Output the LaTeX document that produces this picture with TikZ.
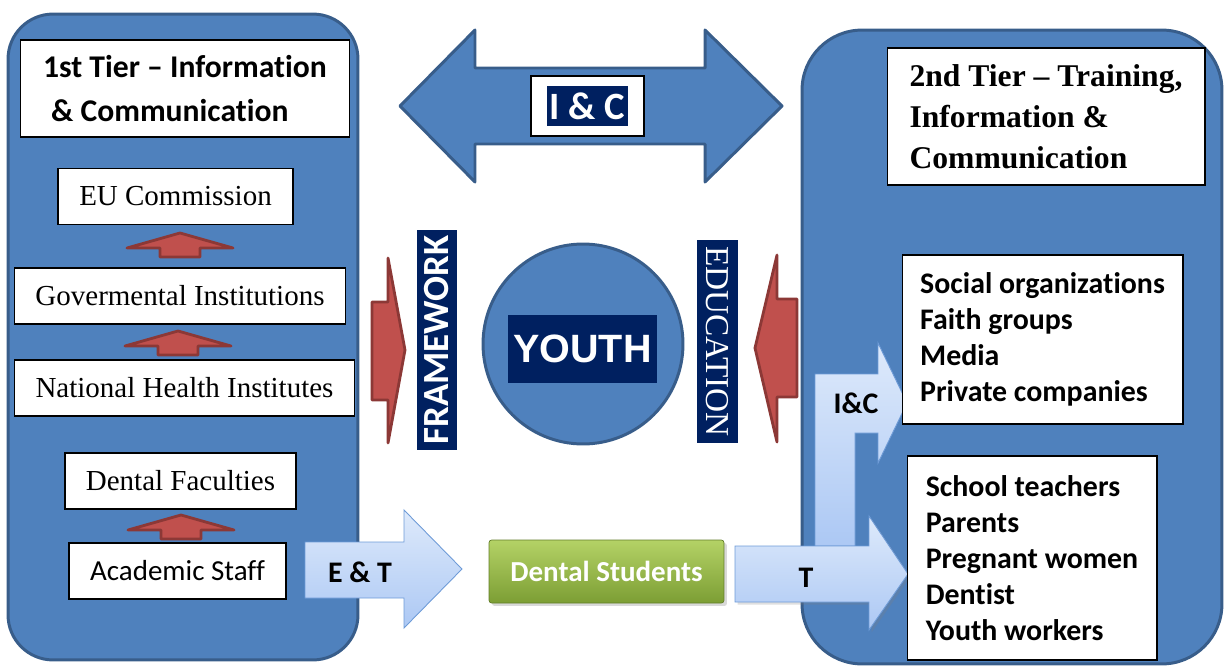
\documentclass[tikz,border=0pt]{standalone}
\usepackage{fontspec}
\setmainfont{Liberation Serif}
\setsansfont{Carlito}[Ligatures=NoCommon]
\newfontfamily\arialfont{Liberation Sans}
\usetikzlibrary{shadows}

\definecolor{panelblue}{RGB}{79,129,189}
\definecolor{panelline}{RGB}{56,93,138}
\definecolor{navy}{RGB}{0,32,96}
\definecolor{redfill}{RGB}{192,80,77}
\definecolor{redline}{RGB}{140,56,54}
\definecolor{lighttop}{RGB}{222,234,251}
\definecolor{lightbottom}{RGB}{172,200,244}
\definecolor{lightline}{RGB}{110,155,215}
\definecolor{greentop}{RGB}{180,210,102}
\definecolor{greenbottom}{RGB}{124,158,52}

\newcommand{\fsz}[2]{\fontsize{#1}{#2}\selectfont}

\begin{document}
\begin{tikzpicture}[
    x=0.02cm, y=-0.02cm,
    panel/.style={draw=panelline, fill=panelblue, line width=1.7pt},
    box/.style={draw=black, fill=white, line width=0.6pt, inner sep=0pt},
    serifbox/.style={box, minimum height=1.12cm, font=\rmfamily\fsz{16.5}{19}},
    listbox/.style={box, align=left, font=\sffamily\bfseries\fsz{17}{20.4}},
    navybox/.style={fill=navy, text=white, inner sep=0pt},
    tag/.style={font=\sffamily\bfseries\fsz{17}{20}},
    redarrow/.style={fill=redfill, draw=redline, line width=1.6pt, line join=round},
    bluearrow/.style={top color=lighttop, bottom color=lightbottom, draw=lightline, line width=0.5pt},
    bigarrow/.style={fill=panelblue, draw=panelline, line width=1.7pt, line join=round}
]
    \useasboundingbox (0,0) rectangle (1224,666);

    % the two tiers
    \node [panel, rounded corners=0.9cm, minimum width=7cm, minimum height=12.92cm] (tier1) at (183,337) {};
    \node [panel, rounded corners=1.2cm, minimum width=8.4cm, minimum height=12.68cm] (tier2) at (1012,347) {};

    % first tier
    \node [box, minimum width=6.6cm, minimum height=1.94cm, align=left,
           font=\sffamily\bfseries\fsz{18}{25.5}] (title1) at (185,88.5)
          {1st Tier – Information\\\hspace*{0.16cm}\& Communication};
    \node [serifbox, minimum width=4.7cm] (eu) at (175.5,196.5) {EU Commission};
    \node [serifbox, minimum width=6.64cm] (gov) at (180,296) {Govermental Institutions};
    \node [serifbox, minimum width=6.82cm] (nhi) at (184.5,388) {National Health Institutes};
    \node [serifbox, minimum width=4.62cm] (df) at (180.5,481) {Dental Faculties};
    \node [serifbox, minimum width=4.34cm, font=\sffamily\fsz{16.5}{19}] (staff) at (177.5,571) {Academic Staff};

    % small arrows up the first tier
    \foreach \cx/\ay in {180/233, 178/331, 181/515}
        \draw [redarrow] (\cx-53,\ay+15) -- (\cx,\ay) -- (\cx+53,\ay+15) -- (\cx+20,\ay+15)
                         -- (\cx+20,\ay+24) -- (\cx-20,\ay+24) -- (\cx-20,\ay+15) -- cycle;

    % second tier
    \node [box, minimum width=6.36cm, minimum height=2.74cm, align=left,
           font=\rmfamily\bfseries\fsz{18}{23.2}] (title2) at (1046,116.5)
          {2nd Tier – Training,\\Information \&\\Communication};

    % I&C between the tiers
    \draw [bigarrow] (400,106) -- (475,30) -- (475,68) -- (705,68) -- (705,30) -- (782,106)
                     -- (705,182) -- (705,144) -- (475,144) -- (475,182) -- cycle;
    \node [box, minimum width=2.26cm, minimum height=1.2cm] (icbox) at (587.5,106) {};
    \node [navybox, minimum width=1.62cm, minimum height=0.8cm, font=\sffamily\bfseries\fsz{22}{24}]
          (ic) at (icbox) {I \& C};

    % youth in the middle
    \node [circle, fill=panelblue, draw=panelline, line width=1.7pt, minimum size=4cm] (youth) at (583,344) {};
    \node [navybox, minimum width=2.98cm, minimum height=1.36cm, font=\arialfont\bfseries\fsz{22.5}{24}]
          (youthtxt) at (582.5,349) {YOUTH};
    \node [navybox, rotate=90, minimum width=4.4cm, minimum height=0.8cm, font=\sffamily\bfseries\fsz{21}{22}]
          (frame) at (437,340) {FRAMEWORK};
    \node [navybox, rotate=-90, minimum width=4.06cm, minimum height=0.82cm, font=\rmfamily\fsz{19}{20}]
          (edu) at (717.5,341.5) {EDUCATION};

    \draw [redarrow] (372,302) -- (388,302) -- (388,258) -- (405,350) -- (388,443) -- (388,400) -- (372,400) -- cycle;
    \draw [redarrow] (797,299) -- (777,299) -- (777,255) -- (755,348) -- (777,442) -- (777,397) -- (797,397) -- cycle;

    % dental students and the training paths
    \draw [bluearrow] (305,542) -- (404,542) -- (404,510) -- (462,569) -- (404,628) -- (404,598) -- (305,598) -- cycle;
    \node [tag] (et) at (360,572) {E \& T};

    \node [rounded corners=1.5pt, top color=greentop, bottom color=greenbottom, draw=greenbottom!80!black,
           line width=0.4pt, drop shadow={opacity=0.3, shadow xshift=0.06cm, shadow yshift=-0.06cm},
           minimum width=4.7cm, minimum height=1.26cm, text=white, font=\sffamily\bfseries\fsz{16.5}{18}]
          (students) at (606.5,571.5) {Dental Students};

    \draw [bluearrow] (815,546) -- (815,374) -- (878,374) -- (878,343) -- (907,403) -- (878,463)
                      -- (878,433) -- (855,433) -- (855,546) -- cycle;
    \draw [bluearrow, drop shadow={opacity=0.25, shadow xshift=0.05cm, shadow yshift=-0.05cm}]
          (735,546) -- (869,546) -- (869,516) -- (908,574) -- (869,630) -- (869,602) -- (735,602) -- cycle;
    \node [tag] (icl) at (856,403) {I\&C};
    \node [tag] (tl) at (806,578) {T};

    \node [listbox, minimum width=5.62cm, minimum height=3.38cm] (social) at (1042.5,339.5)
          {Social organizations\\Faith groups\\Media\\Private companies};
    \node [listbox, minimum width=5cm, minimum height=4.08cm] (public) at (1032,558)
          {School teachers\\Parents\\Pregnant women\\Dentist\\Youth workers};
\end{tikzpicture}
\end{document}
